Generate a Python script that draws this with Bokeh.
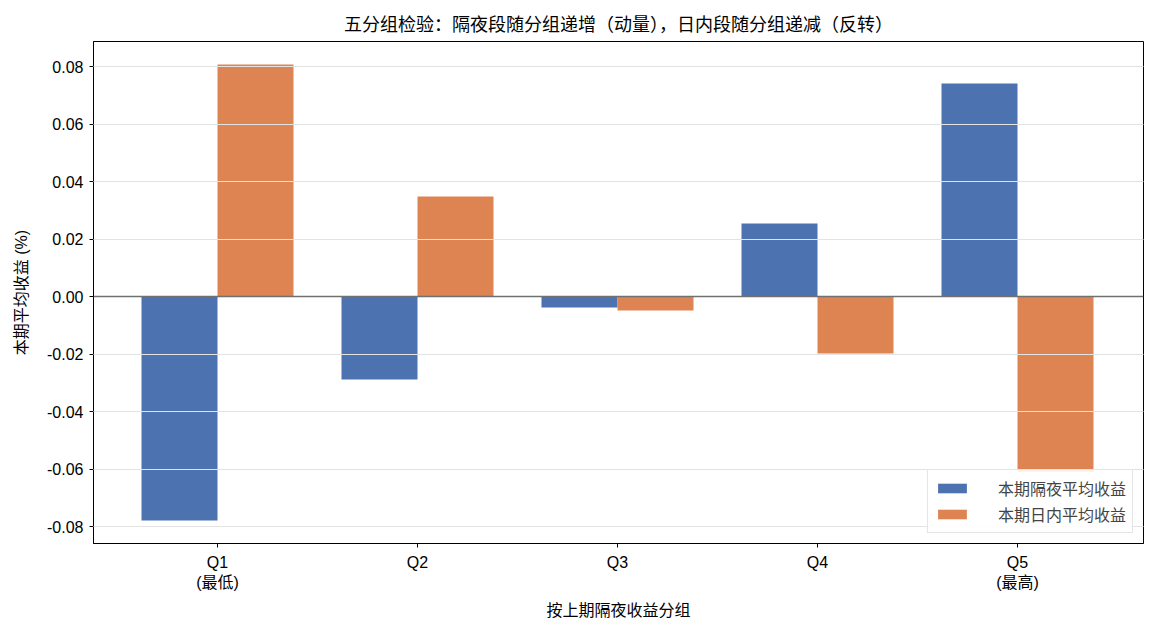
from bokeh.plotting import figure
from bokeh.models import (ColumnDataSource, FixedTicker, NumeralTickFormatter, Span,
                          Range1d, Legend, LegendItem)
from bokeh.embed import file_html
from bokeh.resources import INLINE

groups = ["Q1\n(最低)", "Q2", "Q3", "Q4", "Q5\n(最高)"]
overnight = [-0.0779, -0.0289, -0.0038, 0.0254, 0.0741]
intraday = [0.0807, 0.0348, -0.0049, -0.0198, -0.0610]
y_ticks = [-0.08, -0.06, -0.04, -0.02, 0.0, 0.02, 0.04, 0.06, 0.08]
grid_ticks = [t for t in y_ticks if t != 0.0]

FONT = "Liberation Sans, Arial, Noto Sans CJK SC, sans-serif"
BLUE = "#4C72B0"
ORANGE = "#DD8452"
width = 0.38

xs = list(range(len(groups)))
src_a = ColumnDataSource(dict(x=[i - width / 2 for i in xs], top=overnight))
src_b = ColumnDataSource(dict(x=[i + width / 2 for i in xs], top=intraday))

p = figure(width=1154, height=635, output_backend="svg", toolbar_location=None,
           x_range=Range1d(-0.62, 4.63), y_range=Range1d(-0.0859, 0.0887),
           min_border_left=93, min_border_right=11, min_border_top=41, min_border_bottom=92)

r1 = p.vbar(x="x", top="top", bottom=0, width=width, source=src_a, fill_color=BLUE, line_color=None)
r2 = p.vbar(x="x", top="top", bottom=0, width=width, source=src_b, fill_color=ORANGE, line_color=None)

p.title.text = "五分组检验：隔夜段随分组递增（动量），日内段随分组递减（反转）"
p.title.align = "center"
p.title.text_font = FONT
p.title.text_font_size = "18px"
p.title.text_font_style = "normal"
p.title.text_color = "#000000"
p.title.standoff = 13

p.xaxis.ticker = FixedTicker(ticks=xs)
p.xaxis.major_label_overrides = {i: g for i, g in zip(xs, groups)}
p.yaxis.ticker = FixedTicker(ticks=y_ticks)
p.yaxis.formatter = NumeralTickFormatter(format="0.00")

for ax in (p.xaxis[0], p.yaxis[0]):
    ax.major_label_text_font = FONT
    ax.major_label_text_font_size = "16px"
    ax.major_label_text_color = "#000000"
    ax.axis_label_text_font = FONT
    ax.axis_label_text_font_size = "16px"
    ax.axis_label_text_font_style = "normal"
    ax.axis_label_text_color = "#000000"
    ax.axis_line_color = "#000000"
    ax.major_tick_line_color = "#000000"
    ax.major_tick_out = 4
    ax.major_tick_in = 0
    ax.minor_tick_line_color = None

p.xaxis.axis_label = "按上期隔夜收益分组"
p.yaxis.axis_label = "本期平均收益 (%)"
p.xaxis.major_label_standoff = 6
p.xaxis.axis_label_standoff = 8
p.yaxis.major_label_standoff = 6
p.yaxis.axis_label_standoff = 14

p.xgrid.grid_line_color = None
p.ygrid.ticker = FixedTicker(ticks=grid_ticks)
p.ygrid.grid_line_color = "#e3e3e3"
p.ygrid.grid_line_width = 1
p.ygrid.level = "overlay"

p.outline_line_color = "#000000"
p.outline_line_width = 1

zero = Span(location=0, dimension="width", line_color="#707070", line_width=1.5)
p.add_layout(zero)

legend = Legend(items=[LegendItem(label="本期隔夜平均收益", renderers=[r1]),
                       LegendItem(label="本期日内平均收益", renderers=[r2])],
                location="bottom_right")
legend.label_text_font = FONT
legend.label_text_font_size = "16px"
legend.glyph_width = 36
legend.glyph_height = 12
legend.label_height = 20
legend.label_standoff = 28
legend.spacing = 2
legend.padding = 6
legend.margin = 10
legend.border_line_color = "#cccccc"
legend.border_line_width = 1
legend.background_fill_alpha = 0.9
p.add_layout(legend)

open("out.html", "w").write(file_html(p, INLINE))
